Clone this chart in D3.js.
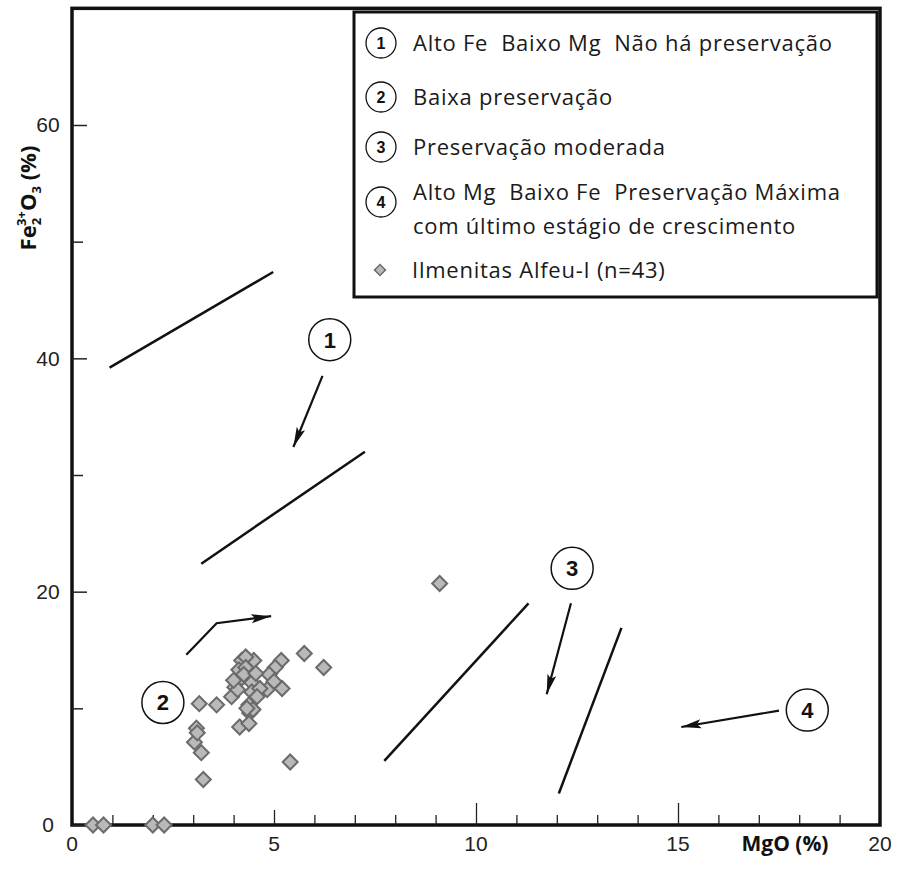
<!DOCTYPE html>
<html><head><meta charset="utf-8">
<script src="https://cdn.jsdelivr.net/npm/d3@7"></script>
<style>body{margin:0;background:#fff}text{white-space:pre}</style></head>
<body>
<svg id="chart" width="898" height="872"></svg>
<script>
// ---- data ----
const mgo = [0.52,0.78,2.0,2.28, 9.1,
  5.75,6.23,5.18,5.03,4.88,5.2,5.0,4.83,4.5,4.2,4.3,4.13,4.2,4.45,4.03,3.95,4.45,4.65,4.38,4.4,
  4.48,4.15,4.38,3.58,3.15,3.08,3.03,3.2,3.25,5.4,4.3,4.1,4.58,3.1,4.25,4.55,4.33,4.0];
const fe2o3 = [0,0,0,0, 20.7,
  14.7,13.5,14.1,13.5,12.9,11.7,12.3,11.6,14.1,14.1,14.4,13.3,12.6,12.2,11.8,11.0,11.4,11.7,10.3,9.6,
  9.9,8.4,8.7,10.3,10.4,8.3,7.1,6.2,3.9,5.4,13.5,11.6,11.0,7.9,12.9,13.0,10.0,12.4];
const xTickValues = [0,5,10,15,20];
const yTickValues = [0,20,40,60];
const trendLines = [
  [[0.93,39.2],[4.98,47.4]],
  [[3.2,22.4],[7.25,32.0]],
  [[7.73,5.5],[11.3,19.0]],
  [[12.05,2.7],[13.6,16.9]]
];
const arrowPaths = [
  [[6.2,38.5],[5.48,32.4]],
  [[2.83,14.6],[3.58,17.3],[4.93,17.9]],
  [[12.35,19.0],[11.75,11.2]],
  [[17.5,9.8],[15.08,8.4]]
];
const fieldLabels = ["1","2","3","4"];
const fieldMgO = [6.38,2.25,12.38,18.2];
const fieldFe = [41.6,10.5,22.0,9.85];
const legendLines = [
  ["Alto Fe  Baixo Mg  Não há preservação"],
  ["Baixa preservação"],
  ["Preservação moderada"],
  ["Alto Mg  Baixo Fe  Preservação Máxima","com último estágio de crescimento"]
];
const seriesName = "Ilmenitas Alfeu-I (n=43)";

// ---- drawing ----
const svg = d3.select("#chart");
svg.append("rect").attr("width",898).attr("height",872).attr("fill","#fff");
const x = d3.scaleLinear().domain([0,20]).range([72,880]);
const y = d3.scaleLinear().domain([0,60]).range([825,125]);

const defs = svg.append("defs");
defs.append("marker").attr("id","ah").attr("viewBox","0 0 20 10").attr("refX",20).attr("refY",5)
  .attr("markerWidth",20).attr("markerHeight",10).attr("markerUnits","userSpaceOnUse").attr("orient","auto")
  .append("path").attr("d","M0,0.5 L20,5 L0,9.5 L4,5 Z").attr("fill","#111");

// frame
svg.append("rect").attr("x",x(0)).attr("y",y(70)).attr("width",x(20)-x(0)).attr("height",y(0)-y(70))
  .attr("fill","none").attr("stroke","#111").attr("stroke-width",3.5);

// y ticks (inward)
const yAxis = d3.axisRight(y).tickValues(d3.range(0,61,10)).tickSize(0).tickFormat("");
const yg = svg.append("g").attr("transform",`translate(${x(0)},0)`).call(yAxis);
yg.select(".domain").remove();
yg.selectAll(".tick line").attr("x2",d=>d%20===0?15:11).attr("stroke","#222").attr("stroke-width",1.5);
svg.append("g").selectAll("text").data(yTickValues).join("text")
  .attr("x",48).attr("y",d=>y(d)).attr("dy","0.35em").attr("text-anchor","middle")
  .attr("font-family","Liberation Sans, Arial, sans-serif").attr("font-size",21).attr("fill","#222")
  .text(d=>d);

// x ticks (inward)
const xAxis = d3.axisTop(x).tickValues(d3.range(1,20,1)).tickSize(0).tickFormat("");
const xg = svg.append("g").attr("transform",`translate(0,${y(0)})`).call(xAxis);
xg.select(".domain").remove();
xg.selectAll(".tick line").attr("y2",d=>(d===10||d===15)?-22:(d===5?-15:-10)).attr("stroke","#222").attr("stroke-width",1.3);
svg.append("g").selectAll("text").data(xTickValues).join("text")
  .attr("x",d=>x(d)).attr("y",851).attr("text-anchor","middle")
  .attr("font-family","Liberation Sans, Arial, sans-serif").attr("font-size",21).attr("fill","#222")
  .text(d=>d);

// axis titles
svg.append("text").attr("x",785).attr("y",851).attr("text-anchor","middle")
  .attr("font-family","Open Sans, sans-serif").attr("font-weight","bold").attr("font-size",21).attr("fill","#111")
  .text("MgO (%)");
const yt = svg.append("text").attr("transform","translate(36,198) rotate(-90)").attr("text-anchor","middle")
  .attr("font-family","Open Sans, sans-serif").attr("font-weight","bold").attr("font-size",22).attr("fill","#111");
yt.append("tspan").text("Fe");
yt.append("tspan").attr("font-size",13).attr("dy",5).text("2");
yt.append("tspan").attr("font-size",13).attr("dx",-8).attr("dy",-15).text("3+");
yt.append("tspan").attr("dy",10).text("O");
yt.append("tspan").attr("font-size",13).attr("dy",5).text("3");
yt.append("tspan").attr("dy",-5).text(" (%)");

// trend lines
const line = d3.line().x(d=>x(d[0])).y(d=>y(d[1]));
svg.append("g").selectAll("path").data(trendLines).join("path")
  .attr("d",line).attr("fill","none").attr("stroke","#111").attr("stroke-width",2.5);

// arrows
svg.append("g").selectAll("path").data(arrowPaths).join("path")
  .attr("d",line).attr("fill","none").attr("stroke","#111").attr("stroke-width",2.2)
  .attr("marker-end","url(#ah)");

// field circles
const fg = svg.append("g").selectAll("g").data(fieldLabels).join("g")
  .attr("transform",(d,i)=>`translate(${x(fieldMgO[i])},${y(fieldFe[i])})`);
fg.append("circle").attr("r",21).attr("fill","#fff").attr("stroke","#111").attr("stroke-width",1.5);
fg.append("text").attr("text-anchor","middle").attr("dy","0.36em")
  .attr("font-family","Liberation Sans, Arial, sans-serif").attr("font-size",22).attr("font-weight","bold").attr("fill","#111")
  .text(d=>d);

// data points
const diamond = d3.symbol().type(d3.symbolSquare).size(112);
svg.append("g").selectAll("path").data(mgo.map((m,i)=>[m,fe2o3[i]])).join("path")
  .attr("d",diamond).attr("transform",d=>`translate(${x(d[0])},${y(d[1])}) rotate(45)`)
  .attr("fill","#b9b9b9").attr("stroke","#6b6b6b").attr("stroke-width",2);

// legend
const lg = svg.append("g");
lg.append("rect").attr("x",354).attr("y",12).attr("width",523).attr("height",285)
  .attr("fill","#fff").attr("stroke","#111").attr("stroke-width",3);
const rowY = [43,97,147,192];
const legendFont = {family:"Open Sans, sans-serif", size:22, spacing:0.75};
legendLines.forEach((lines,i)=>{
  const cy = i===3?202:rowY[i];
  lg.append("circle").attr("cx",381).attr("cy",cy).attr("r",15).attr("fill","#fff").attr("stroke","#111").attr("stroke-width",1.3);
  lg.append("text").attr("x",381).attr("y",cy).attr("dy","0.36em").attr("text-anchor","middle")
    .attr("font-family","Liberation Sans, Arial, sans-serif").attr("font-size",16).attr("font-weight","bold").attr("fill","#111")
    .text(fieldLabels[i]);
  lines.forEach((t,j)=>{
    lg.append("text").attr("x",413).attr("y",rowY[i]+j*34).attr("dy","0.35em")
      .attr("font-family",legendFont.family).attr("font-size",legendFont.size).attr("letter-spacing",legendFont.spacing)
      .attr("fill","#1a1a1a").text(t);
  });
});
lg.append("path").attr("d",d3.symbol().type(d3.symbolSquare).size(60))
  .attr("transform","translate(380,270) rotate(45)").attr("fill","#b9b9b9").attr("stroke","#6b6b6b").attr("stroke-width",1.5);
lg.append("text").attr("x",412).attr("y",270).attr("dy","0.35em")
  .attr("font-family",legendFont.family).attr("font-size",legendFont.size).attr("letter-spacing",legendFont.spacing)
  .attr("fill","#1a1a1a").text(seriesName);
</script>
</body></html>
